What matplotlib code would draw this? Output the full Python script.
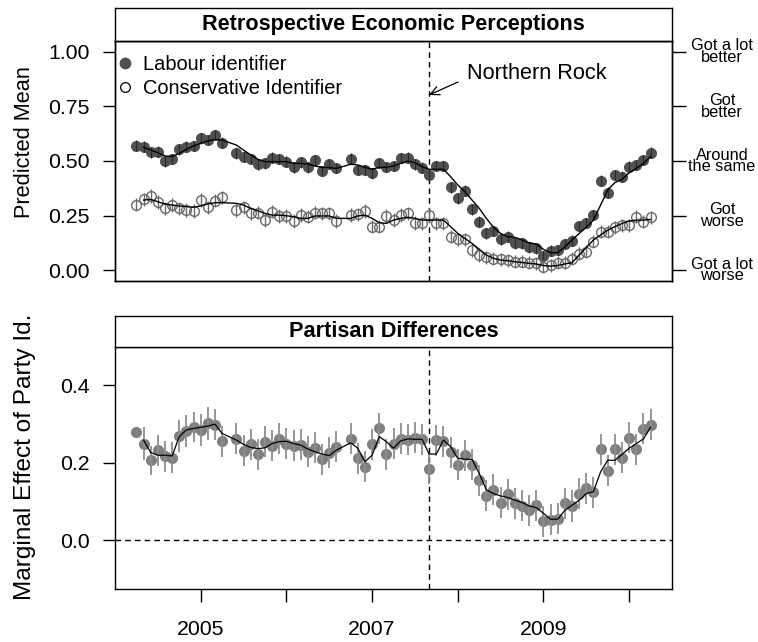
import numpy as np
import matplotlib.pyplot as plt
from matplotlib.lines import Line2D

plt.rcParams["font.family"] = ["Liberation Sans", "DejaVu Sans"]

# monthly survey waves (May 2005 and Sep 2006 have no estimate)
months = [
    "2004-04", "2004-05", "2004-06", "2004-07", "2004-08", "2004-09", "2004-10", "2004-11", "2004-12",
    "2005-01", "2005-02", "2005-03", "2005-04", "2005-06", "2005-07", "2005-08", "2005-09", "2005-10", "2005-11", "2005-12",
    "2006-01", "2006-02", "2006-03", "2006-04", "2006-05", "2006-06", "2006-07", "2006-08", "2006-10", "2006-11", "2006-12",
    "2007-01", "2007-02", "2007-03", "2007-04", "2007-05", "2007-06", "2007-07", "2007-08", "2007-09", "2007-10", "2007-11", "2007-12",
    "2008-01", "2008-02", "2008-03", "2008-04", "2008-05", "2008-06", "2008-07", "2008-08", "2008-09", "2008-10", "2008-11", "2008-12",
    "2009-01", "2009-02", "2009-03", "2009-04", "2009-05", "2009-06", "2009-07", "2009-08", "2009-09", "2009-10", "2009-11", "2009-12",
    "2010-01", "2010-02", "2010-03", "2010-04",
]
northern_rock = "2007-09"

# predicted mean, Labour identifiers (points) and smoothed fit (line)
labour = [
    0.570, 0.566, 0.540, 0.543, 0.498, 0.508, 0.553, 0.566, 0.569,
    0.604, 0.596, 0.619, 0.584, 0.535, 0.520, 0.508, 0.485, 0.489, 0.515, 0.508,
    0.497, 0.471, 0.494, 0.471, 0.503, 0.455, 0.486, 0.468, 0.511, 0.459, 0.459,
    0.443, 0.490, 0.472, 0.477, 0.513, 0.515, 0.484, 0.470, 0.435, 0.477, 0.477, 0.379,
    0.329, 0.364, 0.278, 0.222, 0.168, 0.180, 0.141, 0.153, 0.122, 0.122, 0.104, 0.099,
    0.064, 0.089, 0.092, 0.119, 0.135, 0.202, 0.217, 0.252, 0.410, 0.355, 0.436, 0.428,
    0.474, 0.482, 0.505, 0.538,
]
labour_ci = [
    0.024, 0.024, 0.024, 0.024, 0.024, 0.024, 0.024, 0.024, 0.024,
    0.024, 0.024, 0.024, 0.024, 0.024, 0.024, 0.024, 0.024, 0.024, 0.024, 0.024,
    0.024, 0.024, 0.024, 0.024, 0.024, 0.024, 0.024, 0.024, 0.024, 0.024, 0.024,
    0.024, 0.024, 0.024, 0.024, 0.024, 0.024, 0.024, 0.024, 0.024, 0.024, 0.024, 0.024,
    0.024, 0.024, 0.024, 0.024, 0.024, 0.024, 0.024, 0.024, 0.024, 0.024, 0.024, 0.024,
    0.024, 0.024, 0.024, 0.024, 0.024, 0.024, 0.024, 0.024, 0.024, 0.024, 0.024, 0.024,
    0.024, 0.024, 0.024, 0.024,
]
labour_fit = [
    np.nan, 0.563, 0.550, 0.538, 0.523, 0.520, 0.535, 0.554, 0.569,
    0.581, 0.592, 0.599, 0.596, 0.573, 0.550, 0.528, 0.508, 0.497, 0.497, 0.497,
    0.497, 0.489, 0.489, 0.486, 0.477, 0.471, 0.470, 0.466, 0.485, 0.482, 0.471,
    0.462, 0.471, 0.471, 0.477, 0.489, 0.500, 0.492, 0.474, 0.462, 0.462, 0.462, 0.428,
    0.390, 0.359, 0.321, 0.283, 0.237, 0.196, 0.168, 0.153, 0.150, 0.138, 0.125, 0.119,
    0.095, 0.080, 0.080, 0.107, 0.138, 0.168, 0.196, 0.229, 0.298, 0.367, 0.401, 0.416,
    0.446, 0.466, 0.489, 0.520,
]

# predicted mean, Conservative identifiers
conservative = [
    0.300, 0.324, 0.339, 0.312, 0.283, 0.298, 0.283, 0.275, 0.272,
    0.321, 0.287, 0.318, 0.333, 0.275, 0.287, 0.260, 0.263, 0.229, 0.268, 0.248,
    0.248, 0.226, 0.252, 0.245, 0.263, 0.260, 0.260, 0.226, 0.252, 0.255, 0.272,
    0.199, 0.199, 0.248, 0.229, 0.252, 0.260, 0.217, 0.214, 0.252, 0.214, 0.214, 0.153,
    0.141, 0.141, 0.092, 0.069, 0.058, 0.053, 0.049, 0.046, 0.038, 0.038, 0.034, 0.031,
    0.015, 0.023, 0.034, 0.034, 0.053, 0.076, 0.084, 0.130, 0.176, 0.176, 0.196, 0.206,
    0.206, 0.245, 0.222, 0.242,
]
conservative_ci = [
    0.031, 0.031, 0.031, 0.031, 0.031, 0.031, 0.031, 0.031, 0.031,
    0.031, 0.031, 0.031, 0.031, 0.031, 0.031, 0.031, 0.031, 0.031, 0.031, 0.031,
    0.031, 0.031, 0.031, 0.031, 0.031, 0.031, 0.031, 0.031, 0.031, 0.031, 0.031,
    0.031, 0.031, 0.031, 0.031, 0.031, 0.031, 0.031, 0.031, 0.031, 0.031, 0.031, 0.031,
    0.030, 0.030, 0.030, 0.030, 0.030, 0.030, 0.030, 0.030, 0.030, 0.030, 0.030, 0.030,
    0.030, 0.030, 0.030, 0.030, 0.030, 0.030, 0.030, 0.030, 0.030, 0.030, 0.030, 0.030,
    0.030, 0.030, 0.030, 0.030,
]
conservative_fit = [
    np.nan, 0.321, 0.324, 0.313, 0.303, 0.298, 0.294, 0.291, 0.288,
    0.294, 0.303, 0.309, 0.309, 0.306, 0.298, 0.283, 0.272, 0.260, 0.252, 0.252,
    0.249, 0.245, 0.237, 0.237, 0.248, 0.248, 0.248, 0.237, 0.237, 0.248, 0.252,
    0.237, 0.217, 0.214, 0.229, 0.237, 0.242, 0.237, 0.229, 0.229, 0.229, 0.229, 0.199,
    0.168, 0.145, 0.122, 0.095, 0.069, 0.054, 0.046, 0.043, 0.038, 0.035, 0.031, 0.028,
    0.021, 0.018, 0.021, 0.028, 0.034, 0.069, 0.104, 0.138, 0.161, 0.183, 0.199, 0.214,
    0.225, 0.229, 0.229, 0.232,
]

# marginal effect of party id (Labour - Conservative)
difference = [
    0.279, 0.249, 0.206, 0.232, 0.216, 0.213, 0.269, 0.281, 0.292,
    0.284, 0.301, 0.298, 0.255, 0.262, 0.231, 0.247, 0.222, 0.254, 0.243, 0.261,
    0.249, 0.244, 0.246, 0.228, 0.238, 0.208, 0.225, 0.241, 0.261, 0.211, 0.189,
    0.247, 0.288, 0.222, 0.248, 0.262, 0.259, 0.264, 0.260, 0.184, 0.258, 0.255, 0.226,
    0.194, 0.219, 0.195, 0.155, 0.114, 0.130, 0.096, 0.118, 0.095, 0.089, 0.077, 0.090,
    0.049, 0.052, 0.055, 0.095, 0.088, 0.119, 0.134, 0.124, 0.234, 0.179, 0.234, 0.212,
    0.264, 0.234, 0.287, 0.298,
]
difference_ci = [
    np.nan, 0.042, 0.037, 0.040, 0.040, 0.041, 0.042, 0.041, 0.038,
    0.040, 0.043, 0.039, 0.040, 0.040, 0.040, 0.040, 0.040, 0.040, 0.040, 0.040,
    0.040, 0.040, 0.040, 0.040, 0.040, 0.040, 0.040, 0.040, 0.040, 0.040, 0.040,
    0.040, 0.040, 0.040, 0.040, 0.040, 0.040, 0.040, 0.040, 0.040, 0.040, 0.040, 0.040,
    0.040, 0.040, 0.040, 0.040, 0.040, 0.040, 0.040, 0.040, 0.040, 0.040, 0.040, 0.040,
    0.040, 0.040, 0.040, 0.040, 0.040, 0.040, 0.040, 0.040, 0.039, 0.040, 0.040, 0.040,
    0.040, 0.040, 0.040, 0.041,
]
difference_fit = [
    np.nan, 0.258, 0.226, 0.219, 0.219, 0.217, 0.267, 0.284, 0.288,
    0.291, 0.294, 0.299, 0.275, 0.258, 0.247, 0.239, 0.236, 0.238, 0.249, 0.254,
    0.255, 0.249, 0.245, 0.235, 0.228, 0.222, 0.218, 0.232, 0.251, 0.237, 0.202,
    0.219, 0.267, 0.254, 0.237, 0.256, 0.261, 0.260, 0.260, 0.222, 0.222, 0.258, 0.241,
    0.211, 0.209, 0.208, 0.172, 0.130, 0.120, 0.114, 0.110, 0.103, 0.097, 0.088, 0.084,
    0.069, 0.054, 0.054, 0.077, 0.090, 0.103, 0.120, 0.125, 0.176, 0.206, 0.206, 0.221,
    0.237, 0.249, 0.261, 0.291,
]

y_ticks_top = [0.0, 0.25, 0.5, 0.75, 1.0]
y_ticklabels_top = ["0.00", "0.25", "0.50", "0.75", "1.00"]
response_labels = ["Got a lot\nworse", "Got\nworse", "Around\nthe same", "Got\nbetter", "Got a lot\nbetter"]
y_ticks_bottom = [0.0, 0.2, 0.4]
year_ticks = [2005, 2006, 2007, 2008, 2009, 2010]
year_labels = ["2005", "", "2007", "", "2009", ""]


def to_year(ym):
    y, m = ym.split("-")
    return int(y) + (int(m) - 1) / 12.0


x = np.array([to_year(m) for m in months])
nr_x = to_year(northern_rock)
labour = np.array(labour)
conservative = np.array(conservative)
difference = np.array(difference)
labour_ci = np.array(labour_ci)
conservative_ci = np.array(conservative_ci)
difference_ci = np.array(difference_ci)

W_PX, H_PX = 758, 642
fig = plt.figure(figsize=(W_PX / 100, H_PX / 100), dpi=100)


def box(l, t, r, b):
    return [l / W_PX, 1 - b / H_PX, (r - l) / W_PX, (b - t) / H_PX]


ax1 = fig.add_axes(box(115, 41, 672, 281))
st1 = fig.add_axes(box(115, 8, 672, 41))
ax2 = fig.add_axes(box(115, 347, 672, 589))
st2 = fig.add_axes(box(115, 316, 672, 347))

for st, title in [(st1, "Retrospective Economic Perceptions"), (st2, "Partisan Differences")]:
    st.set_xticks([])
    st.set_yticks([])
    for s in st.spines.values():
        s.set_linewidth(1.0)
    st.text(0.5, 0.5, title, transform=st.transAxes, ha="center", va="center",
            fontsize=15.6, fontweight="bold")

dash = (0, (4, 3))
XLIM = (2004.0, 2010.5)
TICKFONT = 15.3

# ---- top panel ----
ax1.plot(x, labour, "o", ms=8, mfc="#505050", mec="#505050", mew=0, zorder=2)
ax1.vlines(x, labour - labour_ci, labour + labour_ci, color="#2a2a2a", lw=0.8, zorder=3)
ax1.plot(x, conservative, "o", ms=7, mfc="none", mec="#6a6a6a", mew=1.0, zorder=2)
ax1.vlines(x, conservative - conservative_ci, conservative + conservative_ci,
           color="#6a6a6a", lw=1.0, zorder=3)
ax1.plot(x, labour_fit, color="black", lw=1.0, zorder=4)
ax1.plot(x, conservative_fit, color="black", lw=1.0, zorder=4)
ax1.axvline(nr_x, color="black", lw=1.0, ls=dash, zorder=1)

ax1.set_xlim(*XLIM)
ax1.set_ylim(-0.05, 1.05)
ax1.set_yticks(y_ticks_top)
ax1.set_yticklabels(y_ticklabels_top)
ax1.tick_params(axis="x", bottom=False, labelbottom=False)
ax1.tick_params(axis="y", direction="out", length=9, width=1.0, labelsize=TICKFONT, pad=9.5)

rax = ax1.twinx()
rax.set_ylim(-0.05, 1.05)
rax.set_yticks(y_ticks_top)
rax.set_yticklabels(response_labels)
rax.tick_params(axis="y", direction="out", length=10, width=1.0, labelsize=11.8, pad=26)
for lbl in rax.get_yticklabels():
    lbl.set_horizontalalignment("center")
    lbl.set_multialignment("center")
    lbl.set_linespacing(0.72)

for a in (ax1, rax, ax2):
    for s in a.spines.values():
        s.set_linewidth(1.0)

handles = [
    Line2D([], [], ls="none", marker="o", ms=8.5, mfc="#505050", mec="#505050", mew=0),
    Line2D([], [], ls="none", marker="o", ms=7, mfc="none", mec="black", mew=0.9),
]
ax1.legend(handles, ["Labour identifier", "Conservative Identifier"], loc="upper left",
           bbox_to_anchor=(0.007, 0.94), frameon=False, fontsize=14.4, handlelength=0.6,
           handletextpad=0.6, borderpad=0, borderaxespad=0, labelspacing=0.25)

ax1.annotate("Northern Rock", xy=(nr_x, 0.803), xytext=(2008.11, 0.9),
             ha="left", va="center", fontsize=15.7,
             arrowprops=dict(arrowstyle="->", lw=0.9, color="black",
                             relpos=(0, 0.3), shrinkA=5, shrinkB=0))

# ---- bottom panel ----
ax2.plot(x, difference, "o", ms=8, mfc="#7f7f7f", mec="#7f7f7f", mew=0, zorder=2)
ax2.vlines(x, difference - difference_ci, difference + difference_ci,
           color="#8e8e8e", lw=1.3, zorder=3)
ax2.plot(x, difference_fit, color="black", lw=0.9, zorder=4)
ax2.axvline(nr_x, color="black", lw=1.0, ls=dash, zorder=1)
ax2.axhline(0, color="black", lw=1.0, ls=dash, zorder=1)

ax2.set_xlim(*XLIM)
ax2.set_ylim(-0.126, 0.498)
ax2.set_yticks(y_ticks_bottom)
ax2.set_yticklabels(["0.0", "0.2", "0.4"])
ax2.set_xticks(year_ticks)
ax2.set_xticklabels(year_labels)
ax2.tick_params(axis="y", direction="out", length=9, width=1.0, labelsize=TICKFONT, pad=9.5)
ax2.tick_params(axis="x", direction="out", length=9.5, width=1.0, labelsize=TICKFONT, pad=13)

fig.text(25 / W_PX, 1 - 141.7 / H_PX, "Predicted Mean", rotation=90,
         ha="center", va="center", fontsize=15.7)
fig.text(25 / W_PX, 1 - 457 / H_PX, "Marginal Effect of Party Id.", rotation=90,
         ha="center", va="center", fontsize=17.6)

fig.savefig("out.png", dpi=100)
